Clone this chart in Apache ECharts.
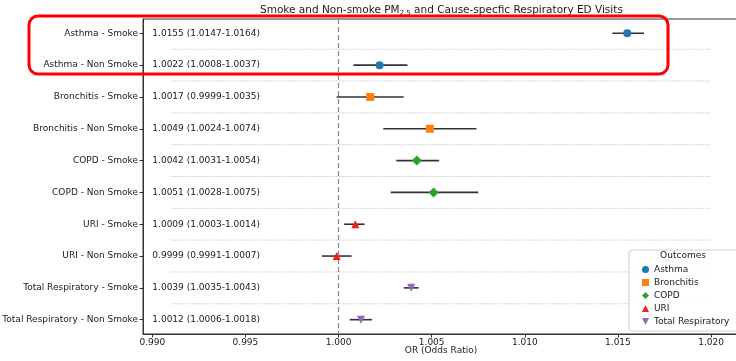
<!DOCTYPE html>
<html>
<head>
<meta charset="utf-8">
<script src="https://cdn.jsdelivr.net/npm/echarts@6/dist/echarts.min.js"></script>
<style>html,body{margin:0;padding:0;background:#fff;}#c{width:736px;height:361px;}</style>
</head>
<body>
<div id="c"></div>
<script>
const categories = ['Asthma - Smoke','Asthma - Non Smoke','Bronchitis - Smoke','Bronchitis - Non Smoke','COPD - Smoke','COPD - Non Smoke','URI - Smoke','URI - Non Smoke','Total Respiratory - Smoke','Total Respiratory - Non Smoke'];
const orValues = [1.0155, 1.0022, 1.0017, 1.0049, 1.0042, 1.0051, 1.0009, 0.9999, 1.0039, 1.0012];
const ciLow   = [1.0147, 1.0008, 0.9999, 1.0024, 1.0031, 1.0028, 1.0003, 0.9991, 1.0035, 1.0006];
const ciHigh  = [1.0164, 1.0037, 1.0035, 1.0074, 1.0054, 1.0075, 1.0014, 1.0007, 1.0043, 1.0018];
const rowOutcome = ['Asthma','Asthma','Bronchitis','Bronchitis','COPD','COPD','URI','URI','Total Respiratory','Total Respiratory'];
const outcomes = ['Asthma','Bronchitis','COPD','URI','Total Respiratory'];
const outcomeColors = ['#1f77b4','#ff7f0e','#2ca02c','#ff1a1a','#9467bd'];
const outcomeSymbols = ['circle','rect','diamond','triangle','path://M0,0 L10,0 L5,10 Z'];
const outcomeSizes = [8, 8, 10, 8, 8];
const xTicks = [0.990, 0.995, 1.000, 1.005, 1.010, 1.015, 1.020];

const FONT = 'DejaVu Sans';
const chart = echarts.init(document.getElementById('c'), null, {renderer: 'canvas'});

const rowIdx = categories.map((_, i) => i);
const ciText = categories.map((_, i) => orValues[i].toFixed(4) + ' (' + ciLow[i].toFixed(4) + '-' + ciHigh[i].toFixed(4) + ')');

const series = [];
// separators
series.push({
  type: 'custom', silent: true, z: 1,
  data: rowIdx.slice(0, -1).map(i => [i + 0.5]),
  renderItem: (params, api) => {
    const y = api.value(0);
    const p1 = api.coord([0.991, y]);
    const p2 = api.coord([1.020, y]);
    return {type: 'line', shape: {x1: p1[0], y1: p1[1], x2: p2[0], y2: p2[1]},
      style: {stroke: '#c8c8c8', lineWidth: 1, lineDash: [1.5, 1.5]}};
  },
  markLine: {
    silent: true, symbol: 'none', label: {show: false},
    lineStyle: {color: '#888', type: [5, 3], width: 1.2},
    data: [{xAxis: 1.0}]
  }
});
// error bars
series.push({
  type: 'custom', silent: true, z: 3,
  data: rowIdx.map(i => [ciLow[i], ciHigh[i], i]),
  renderItem: (params, api) => {
    const p1 = api.coord([api.value(0), api.value(2)]);
    const p2 = api.coord([api.value(1), api.value(2)]);
    return {type: 'line', shape: {x1: p1[0], y1: p1[1], x2: p2[0], y2: p2[1]},
      style: {stroke: '#333', lineWidth: 1.6}};
  }
});
// CI text
series.push({
  type: 'custom', silent: true, z: 3,
  data: rowIdx.map(i => [0.990, i]),
  renderItem: (params, api) => {
    const p = api.coord([api.value(0), api.value(1)]);
    return {type: 'text', x: p[0], y: p[1],
      style: {text: ciText[params.dataIndex], fill: '#1a1a1a', font: '9px "DejaVu Sans"', textAlign: 'left', textVerticalAlign: 'middle'}};
  }
});
// markers
outcomes.forEach((o, k) => {
  series.push({
    name: o, type: 'scatter', z: 5,
    symbol: outcomeSymbols[k], symbolSize: outcomeSizes[k],
    itemStyle: {color: outcomeColors[k], opacity: 1},
    data: rowIdx.filter(i => rowOutcome[i] === o).map(i => [orValues[i], i])
  });
});

const option = {
  animation: false,
  textStyle: {fontFamily: FONT},
  grid: {left: 143, right: -3, top: 19, bottom: 27, show: true, borderColor: '#333', borderWidth: 1, backgroundColor: 'transparent', outerBoundsMode: 'none', containLabel: false},
  xAxis: {
    type: 'value', min: 0.9895, max: 1.0215,
    name: 'OR (Odds Ratio)', nameLocation: 'middle', nameGap: 12, nameMoveOverlap: false,
    nameTextStyle: {fontSize: 9, color: '#1a1a1a', fontFamily: FONT, verticalAlign: 'top'},
    axisLine: {show: true, onZero: false, lineStyle: {color: '#333'}},
    axisTick: {show: true, length: 3.5, lineStyle: {color: '#333'}, customValues: xTicks},
    axisLabel: {fontSize: 9, color: '#1a1a1a', fontFamily: FONT, margin: 4, customValues: xTicks, formatter: v => v.toFixed(3)},
    splitLine: {show: false}
  },
  yAxis: {
    type: 'value', min: -0.45, max: 9.45, inverse: true,
    axisLine: {show: true, onZero: false, lineStyle: {color: '#333'}},
    axisTick: {show: true, length: 3.5, lineStyle: {color: '#333'}, customValues: rowIdx},
    axisLabel: {fontSize: 9, color: '#1a1a1a', fontFamily: FONT, margin: 5, customValues: rowIdx, formatter: v => categories[Math.round(v)]},
    splitLine: {show: false}
  },
  legend: {
    data: outcomes.map((o, k) => ({name: o, icon: outcomeSymbols[k]})),
    orient: 'vertical', left: 637, top: 259, z: 10,
    itemWidth: 7, itemHeight: 7, itemGap: 2,
    textStyle: {fontSize: 9, color: '#1a1a1a', fontFamily: FONT, lineHeight: 11}
  },
  graphic: [
    {type: 'text', left: 441 - 181, top: 5, z: 20,
      style: {text: 'Smoke and Non-smoke PM{s|2.5} and Cause-specfic Respiratory ED Visits',
        rich: {s: {fontSize: 7, fontFamily: FONT, fill: '#1a1a1a', padding: [6, 0, 0, 0]}},
        font: '10.5px "DejaVu Sans"', fill: '#1a1a1a'}},
    {type: 'rect', z: 8, shape: {x: 629, y: 250, width: 112, height: 81, r: 3},
      style: {fill: 'rgba(255,255,255,0.85)', stroke: '#d0d0d0', lineWidth: 1}},
    {type: 'text', z: 11, x: 683, y: 256,
      style: {text: 'Outcomes', font: '9px "DejaVu Sans"', fill: '#1a1a1a', textAlign: 'center', textVerticalAlign: 'middle'}},
    {type: 'rect', z: 100, shape: {x: 29, y: 16, width: 639, height: 58, r: 9},
      style: {fill: 'none', stroke: '#ff0000', lineWidth: 3}}
  ],
  series: series
};
chart.setOption(option);
</script>
</body>
</html>
